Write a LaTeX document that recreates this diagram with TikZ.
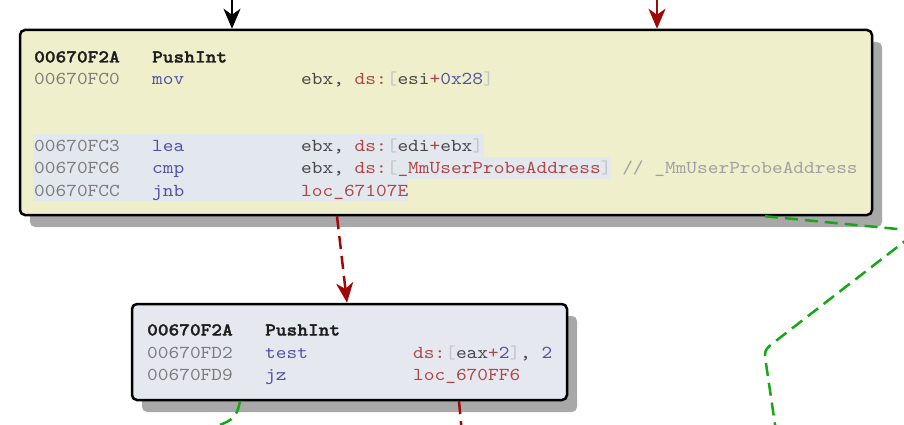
\documentclass[tikz,border=0pt]{standalone}
\usepackage{fontspec}
\newfontfamily\monofam{lmmono10-regular.otf}[FakeStretch=1.12, BoldFont=lmmonolt10-bold.otf, BoldFeatures={FakeBold=1.5}]
\usetikzlibrary{arrows.meta,shadows}
\definecolor{yellowbox}{HTML}{EFEFCB}
\definecolor{bluebox}{HTML}{E5E8EE}
\definecolor{bandcol}{HTML}{E3E7EE}
\definecolor{shadowgray}{HTML}{A8A8A8}
\definecolor{addr}{HTML}{7C7C7C}
\definecolor{mnem}{HTML}{5252A6}
\definecolor{opd}{HTML}{484848}
\definecolor{seg}{HTML}{B04646}
\definecolor{brk}{HTML}{C4C4C4}
\definecolor{cmt}{HTML}{A0A0A0}
\definecolor{num}{HTML}{5252A6}
\definecolor{hdr}{HTML}{1E1E1E}
\definecolor{flowred}{HTML}{A00808}
\definecolor{flowgreen}{HTML}{14A814}
\frenchspacing
\begin{document}
\begin{tikzpicture}[x=1pt,y=-1pt,
  blockbox/.style={draw=black, line width=2.5pt, rounded corners=5pt, inner sep=0pt,
    drop shadow={shadow xshift=10pt, shadow yshift=-12pt, fill=shadowgray, opacity=1, draw=none}},
  cell/.style={anchor=base west, inner sep=0pt, font=\monofam\fontsize{18.2}{22}\selectfont},
  hcell/.style={cell, font=\monofam\bfseries\fontsize{18.2}{22}\selectfont, text=hdr},
  acell/.style={cell, text=addr},
  mcell/.style={cell, text=mnem},
  band/.style={fill=bandcol, draw=none},
  headtip/.style={-{Stealth[length=20pt, width=17pt, inset=6pt]}},
  flowsolid/.style={line width=2pt, draw=black, headtip},
  flowdash/.style={line width=2.5pt, dash pattern=on 13pt off 7pt},
  truedge/.style={flowdash, draw=flowgreen},
  falseedge/.style={flowdash, draw=flowred}
]
\useasboundingbox (0,0) rectangle (904,425);
\clip (0,0) rectangle (904,425);

% boxes
\node[blockbox, fill=yellowbox, minimum width=852pt, minimum height=185pt] (top) at (446,122.5) {};
\node[blockbox, fill=bluebox, minimum width=435pt, minimum height=96pt] (bot) at (349.5,352) {};

% highlight bands (top box)
\fill[band] (33,134.3) rectangle (484,156.7);
\fill[band] (33,156.7) rectangle (611,179.1);
\fill[band] (33,179.1) rectangle (408,201.3);

% top box text
\node[hcell] (t0a) at (34,62.5) {00670F2A};
\node[hcell] (t0m) at (152,62.5) {PushInt};

\node[acell] (t1a) at (34,85) {00670FC0};
\node[mcell] (t1m) at (152,85) {mov};
\node[cell] (t1o) at (301,85) {{\color{opd}ebx, }{\color{seg}ds:}{\color{brk}[}{\color{opd}esi}{\color{seg}+}{\color{num}0x28}{\color{brk}]}};

\node[acell] (t2a) at (34,151) {00670FC3};
\node[mcell] (t2m) at (152,151) {lea};
\node[cell] (t2o) at (301,151) {{\color{opd}ebx, }{\color{seg}ds:}{\color{brk}[}{\color{opd}edi}{\color{seg}+}{\color{opd}ebx}{\color{brk}]}};

\node[acell] (t3a) at (34,173.5) {00670FC6};
\node[mcell] (t3m) at (152,173.5) {cmp};
\node[cell] (t3o) at (301,173.5) {{\color{opd}ebx, }{\color{seg}ds:}{\color{brk}[}{\color{seg}\_MmUserProbeAddress}{\color{brk}]} {\color{cmt}// \_MmUserProbeAddress}};

\node[acell] (t4a) at (34,196) {00670FCC};
\node[mcell] (t4m) at (152,196) {jnb};
\node[cell, text=seg] (t4o) at (301,196) {loc\_67107E};

% bottom box text
\node[hcell] (b0a) at (147,335.5) {00670F2A};
\node[hcell] (b0m) at (265,335.5) {PushInt};

\node[acell] (b1a) at (147,358) {00670FD2};
\node[mcell] (b1m) at (265,358) {test};
\node[cell] (b1o) at (413,358) {{\color{seg}ds:}{\color{brk}[}{\color{opd}eax}{\color{seg}+}{\color{num}2}{\color{brk}]}{\color{opd}, }{\color{num}2}};

\node[acell] (b2a) at (147,380.5) {00670FD9};
\node[mcell] (b2m) at (265,380.5) {jz};
\node[cell, text=seg] (b2o) at (413,380.5) {loc\_670FF6};

% connectors
\coordinate (inA) at (232,-10);
\coordinate (inB) at (657,-3);
\coordinate (m1) at (337,0);
\coordinate (m2) at (347,0);
\coordinate (g0) at (765,0);
\coordinate (g0turn) at (918,231);
\coordinate (g0a) at (776,340.8);
\coordinate (g0bend) at (764,350);
\coordinate (g0b) at (766.2,364.8);
\coordinate (g0end) at (778,445);
\coordinate (g1) at (240,0);
\coordinate (g1bend) at (236,418);
\coordinate (g1end) at (190,438);
\coordinate (r1) at (459,0);
\coordinate (r1end) at (463,445);

\draw[flowsolid] (inA) -- (inA |- top.north);
\draw[line width=2.5pt, draw=flowred, headtip] (inB) -- (inB |- top.north);
\draw[falseedge, headtip] (top.south -| m1) -- (bot.north -| m2);
\draw[truedge] (top.south -| g0) -- (g0turn) -- (g0a) .. controls (g0bend) .. (g0b) -- (g0end);
\draw[truedge, rounded corners=10pt] (bot.south -| g1) -- (g1bend) -- (g1end);
\draw[falseedge] (bot.south -| r1) -- (r1end);
\end{tikzpicture}
\end{document}
